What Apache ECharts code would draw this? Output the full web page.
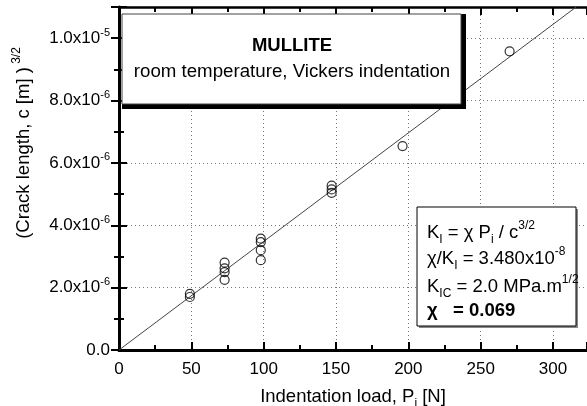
<!DOCTYPE html>
<html><head><meta charset="utf-8">
<script src="https://cdn.jsdelivr.net/npm/echarts@6/dist/echarts.min.js"></script>
<style>html,body{margin:0;padding:0;background:#fff}#c{width:587px;height:406px}</style>
</head><body><div id="c"></div>
<script>
// data
const loadP  = [49, 49, 73, 73, 73, 73, 98, 98, 98, 98, 147, 147, 147, 196, 270];
const crackC = [1.8e-6, 1.7e-6, 2.8e-6, 2.62e-6, 2.5e-6, 2.25e-6, 3.57e-6, 3.46e-6, 3.2e-6, 2.88e-6, 5.27e-6, 5.15e-6, 5.04e-6, 6.54e-6, 9.58e-6];
const fitP = [0, 316];
const fitC = [0, 1.1e-5];
const xTickLabels = ['0', '50', '100', '150', '200', '250', '300'];
const xTickValues = [0, 50, 100, 150, 200, 250, 300];
const yTickValues = [0, 2e-6, 4e-6, 6e-6, 8e-6, 1e-5];
const yTickLabels = ['0.0', '2.0x10^-6', '4.0x10^-6', '6.0x10^-6', '8.0x10^-6', '1.0x10^-5'];

const FONT = '"Liberation Sans", Arial, sans-serif';
const chart = echarts.init(document.getElementById('c'), null, {renderer: 'canvas'});

function yFmt(v) {
  const i = yTickValues.findIndex(t => Math.abs(t - v) < 1e-9);
  if (i < 0) return '';
  const p = yTickLabels[i].split('^');
  return p.length > 1 ? '{m|' + p[0] + '}{sup|' + p[1] + '}' : '{m|' + p[0] + '}';
}
function xFmt(v) {
  const i = xTickValues.findIndex(t => Math.abs(t - v) < 1e-6);
  return i < 0 ? '' : xTickLabels[i];
}

const tickStyle = {show: true, inside: true, length: 8, lineStyle: {color: '#000', width: 2}};
const minorStyle = {show: true, splitNumber: 2, length: 5, lineStyle: {color: '#000', width: 2}};
const gridLine = {show: true, lineStyle: {color: '#777', width: 1, type: [1, 3]}};

const pts = loadP.map((p, i) => [p, crackC[i]]);
const fit = fitP.map((p, i) => [p, fitC[i]]);

const richText = {
  t: {fontSize: 18.5, fontFamily: FONT, color: '#000', lineHeight: 26, verticalAlign: 'middle'},
  sub: {fontSize: 12, fontFamily: FONT, color: '#000', lineHeight: 26, verticalAlign: 'bottom'},
  sup: {fontSize: 12, fontFamily: FONT, color: '#000', lineHeight: 26, verticalAlign: 'top'},
  b: {fontSize: 18.5, fontFamily: FONT, color: '#000', fontWeight: 'bold', lineHeight: 26}
};

chart.setOption({
  animation: false,
  backgroundColor: '#fff',
  grid: {left: 119, right: 0, top: 7, bottom: 56, containLabel: false, outerBoundsMode: 'none'},
  xAxis: [{
    type: 'value', min: 0, max: 323.5, interval: 50, position: 'bottom',
    axisLine: {show: true, onZero: false, lineStyle: {color: '#000', width: 3}},
    axisTick: tickStyle, minorTick: minorStyle, splitLine: gridLine,
    axisLabel: {formatter: xFmt, fontSize: 17, fontFamily: FONT, color: '#000', margin: 11, showMaxLabel: false},
    name: '{t|Indentation load, P}{sub|i}{t| [N]}', nameLocation: 'middle', nameGap: 34,
    nameTextStyle: {rich: richText}
  }, {
    type: 'value', min: 0, max: 323.5, interval: 50, position: 'top',
    axisLine: {show: true, onZero: false, lineStyle: {color: '#000', width: 2.5}},
    axisTick: tickStyle, minorTick: minorStyle, splitLine: {show: false},
    axisLabel: {show: false}
  }],
  yAxis: [{
    type: 'value', min: 0, max: 1.1e-5, interval: 2e-6, position: 'left',
    axisLine: {show: true, onZero: false, lineStyle: {color: '#000', width: 3}},
    axisTick: tickStyle, minorTick: minorStyle, splitLine: gridLine,
    axisLabel: {formatter: yFmt, margin: 9, showMaxLabel: false, rich: {
      m: {fontSize: 17, fontFamily: FONT, color: '#000', lineHeight: 22, verticalAlign: 'middle'},
      sup: {fontSize: 11, fontFamily: FONT, color: '#000', lineHeight: 22, verticalAlign: 'top'}
    }}
  }, {
    type: 'value', min: 0, max: 1.1e-5, interval: 2e-6, position: 'right', offset: 3,
    axisLine: {show: false},
    axisTick: tickStyle, minorTick: minorStyle, splitLine: {show: false},
    axisLabel: {show: false}
  }],
  series: [{
    type: 'line', data: fit, xAxisIndex: 0, yAxisIndex: 0, symbol: 'none',
    lineStyle: {color: '#444', width: 1}, z: 2, silent: true
  }, {
    type: 'scatter', data: pts, xAxisIndex: 0, yAxisIndex: 0, symbol: 'circle', symbolSize: 9,
    itemStyle: {color: 'rgba(0,0,0,0)', borderColor: '#000', borderWidth: 1.2}, z: 3
  }],
  graphic: [
    // title box with heavy shadow
    {type: 'rect', z: 100, shape: {x: 122, y: 14, width: 344, height: 95}, style: {fill: '#000'}},
    {type: 'rect', z: 101, shape: {x: 122, y: 14, width: 339, height: 90}, style: {fill: '#fff', stroke: '#444', lineWidth: 1}},
    {type: 'text', z: 102, style: {x: 292, y: 46, text: 'MULLITE', align: 'center', verticalAlign: 'middle',
      font: 'bold 18.5px ' + FONT, fill: '#000'}},
    {type: 'text', z: 102, style: {x: 292, y: 72, text: 'room temperature, Vickers indentation', align: 'center', verticalAlign: 'middle',
      font: '18.7px ' + FONT, fill: '#000'}},
    // parameter box
    {type: 'rect', z: 100, shape: {x: 419, y: 209, width: 159, height: 119}, style: {fill: '#888'}},
    {type: 'rect', z: 101, shape: {x: 417, y: 207, width: 159, height: 119}, style: {fill: '#fff', stroke: '#000', lineWidth: 1}},
    {type: 'text', z: 102, style: {x: 427, y: 233, text: '{t|K}{sub|I}{t| = χ P}{sub|i}{t| / c}{sup|3/2}', verticalAlign: 'middle', rich: richText}},
    {type: 'text', z: 102, style: {x: 427, y: 259, text: '{t|χ/K}{sub|I}{t| = 3.480x10}{sup|-8}', verticalAlign: 'middle', rich: richText}},
    {type: 'text', z: 102, style: {x: 427, y: 287, text: '{t|K}{sub|IC}{t| = 2.0 MPa.m}{sup|1/2}', verticalAlign: 'middle', rich: richText}},
    {type: 'text', z: 102, style: {x: 427, y: 311, text: '{b|χ   = 0.069}', verticalAlign: 'middle', rich: richText}},
    // y axis title
    {type: 'text', z: 102, x: 24, y: 143, rotation: Math.PI / 2,
      style: {x: 0, y: 0, text: '{t|(Crack length, c [m] )} {sup|3/2}', align: 'center', verticalAlign: 'middle', rich: richText}}
  ]
});
</script></body></html>
